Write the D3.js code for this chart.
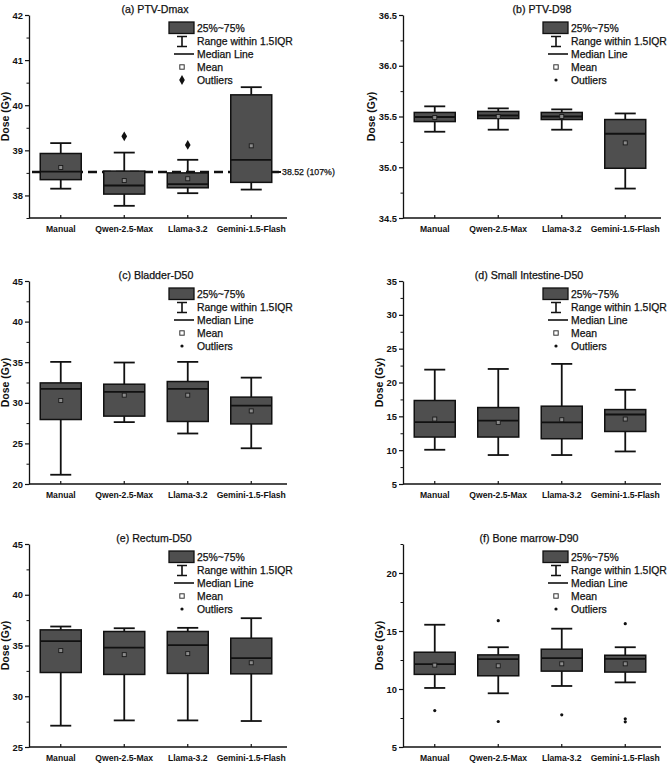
<!DOCTYPE html>
<html>
<head>
<meta charset="utf-8">
<script src="https://cdn.jsdelivr.net/npm/d3@7/dist/d3.min.js"></script>
<style>
  body { margin: 0; background: #fff; }
  svg { display: block; }
</style>
</head>
<body>
<div id="chart"></div>
<script>
// Catégories (axe X, commun aux 6 panneaux)
const categories = ['Manual', 'Qwen-2.5-Max', 'Llama-3.2', 'Gemini-1.5-Flash'];

// Statistiques par catégorie : [moustache basse, Q1, médiane, Q3, moustache haute, moyenne]
const ptvDmax      = [[38.15, 38.35, 38.53, 38.93, 39.16, 38.62],
                      [37.77, 38.03, 38.22, 38.54, 38.95, 38.33],
                      [38.05, 38.17, 38.25, 38.50, 38.79, 38.37],
                      [38.13, 38.29, 38.79, 40.23, 40.40, 39.10]];
const ptvDmaxOut   = [[], [39.31], [39.12], []];

const ptvD98       = [[35.35, 35.45, 35.495, 35.54, 35.60, 35.49],
                      [35.37, 35.48, 35.51, 35.55, 35.58, 35.50],
                      [35.37, 35.47, 35.50, 35.54, 35.57, 35.50],
                      [34.79, 34.99, 35.33, 35.47, 35.53, 35.24]];

const bladderD50   = [[21.14, 27.94, 31.72, 32.45, 35.04, 30.28],
                      [27.62, 28.36, 31.35, 32.29, 34.96, 30.94],
                      [26.22, 27.70, 31.72, 32.62, 35.04, 30.94],
                      [24.40, 27.40, 29.66, 30.70, 33.10, 29.00]];

const smallIntD50  = [[10.06, 11.94, 14.15, 17.34, 21.90, 14.60],
                      [ 9.28, 11.94, 14.38, 16.30, 22.00, 14.10],
                      [ 9.28, 11.69, 14.10, 16.50, 22.75, 14.50],
                      [ 9.81, 12.76, 15.27, 16.00, 18.92, 14.60]];

const rectumD50    = [[27.10, 32.34, 35.43, 36.54, 36.87, 34.50],
                      [27.62, 32.15, 34.80, 36.38, 36.70, 34.10],
                      [27.62, 32.25, 35.03, 36.38, 36.74, 34.20],
                      [27.56, 32.21, 33.75, 35.72, 37.69, 33.30]];

const boneMarrowD90    = [[10.09, 11.26, 12.14, 13.17, 15.54, 12.06],
                          [ 9.63, 11.14, 12.57, 12.94, 13.60, 12.00],
                          [10.26, 11.54, 12.66, 13.43, 15.20, 12.17],
                          [10.57, 11.46, 12.60, 12.91, 13.60, 12.17]];
const boneMarrowD90Out = [[8.14], [15.89, 7.20], [7.77], [15.63, 7.43, 7.17]];

// Ligne de référence du panneau (a)
const refDose = 38.52;
const refLabel = '38.52 (107%)';

// Graduations Y
const ticksA = [38, 39, 40, 41, 42];
const ticksB = [34.5, 35.0, 35.5, 36.0, 36.5];
const ticksC = [20, 25, 30, 35, 40, 45];
const ticksD = [5, 10, 15, 20, 25, 30, 35];
const ticksE = [25, 30, 35, 40, 45];
const ticksF = [5, 10, 15, 20];

const legendItems = ['25%~75%', 'Range within 1.5IQR', 'Median Line', 'Mean', 'Outliers'];

// ─── Mise en page ───
const W = 669, H = 764;
const PW = 258, PH = 203;
const FONT = '"Liberation Sans", Arial, sans-serif';
const INK = '#111';
const BOX_FILL = '#4f4f4f';

const panels = [
  { title: '(a) PTV-Dmax', stats: ptvDmax, out: ptvDmaxOut, domain: [37.5, 42], ticks: ticksA, minor: 0.5, fmt: d3.format('d'), x: 29, y: 15, tx: 126, diamond: true, ref: true },
  { title: '(b) PTV-D98', stats: ptvD98, out: null, domain: [34.5, 36.5], ticks: ticksB, minor: 0.25, fmt: d3.format('.1f'), x: 403, y: 15, tx: 139 },
  { title: '(c) Bladder-D50', stats: bladderD50, out: null, domain: [20, 45], ticks: ticksC, minor: 2.5, fmt: d3.format('d'), x: 29, y: 281, tx: 127 },
  { title: '(d) Small Intestine-D50', stats: smallIntD50, out: null, domain: [5, 35], ticks: ticksD, minor: 2.5, fmt: d3.format('d'), x: 403, y: 281, tx: 126 },
  { title: '(e) Rectum-D50', stats: rectumD50, out: null, domain: [25, 45], ticks: ticksE, minor: 2.5, fmt: d3.format('d'), x: 29, y: 544, tx: 125 },
  { title: '(f) Bone marrow-D90', stats: boneMarrowD90, out: boneMarrowD90Out, domain: [5, 22.5], ticks: ticksF, minor: 2.5, fmt: d3.format('d'), x: 403, y: 544, tx: 126 }
];

const svg = d3.select('#chart').append('svg')
  .attr('width', W).attr('height', H)
  .attr('viewBox', `0 0 ${W} ${H}`);

// Texte un peu « épaissi » pour rendre le gris du JPEG d'origine
function label(sel, x, y, txt, size, opts = {}) {
  return sel.append('text')
    .attr('x', x).attr('y', y)
    .attr('text-anchor', opts.anchor || 'start')
    .attr('dy', opts.dy || null)
    .attr('font-family', FONT)
    .attr('font-size', size)
    .attr('font-weight', opts.bold ? 700 : 400)
    .attr('fill', INK)
    .attr('stroke', INK).attr('stroke-width', opts.bold ? 0 : 0.25)
    .text(txt);
}

function outlierMark(g, cx, cy, diamond) {
  if (diamond) {
    g.append('path')
      .attr('d', d3.symbol().type(d3.symbolDiamond).size(28)())
      .attr('transform', `translate(${cx},${cy})`)
      .attr('fill', INK);
  } else {
    g.append('circle').attr('cx', cx).attr('cy', cy).attr('r', 1.6).attr('fill', INK);
  }
}

function meanMark(g, cx, cy) {
  g.append('rect')
    .attr('x', cx - 2).attr('y', cy - 2)
    .attr('width', 4).attr('height', 4)
    .attr('fill', '#8c8c8c').attr('stroke', '#1a1a1a').attr('stroke-width', 0.9);
}

function drawPanel(p) {
  const g = svg.append('g').attr('transform', `translate(${p.x},${p.y})`);
  const y = d3.scaleLinear().domain(p.domain).range([PH, 0]);
  const x = d3.scaleBand().domain(categories).range([0, 254]);
  const cx = c => x(c) + x.bandwidth() / 2;

  // graduations mineures
  const minorVals = d3.range(p.domain[0], p.domain[1] + 1e-9, p.minor)
    .filter(v => !p.ticks.some(t => Math.abs(t - v) < 1e-9));
  const gm = g.append('g').call(d3.axisLeft(y).tickValues(minorVals).tickSize(2.5).tickFormat(''));
  gm.select('.domain').remove();
  gm.selectAll('line').attr('stroke', INK).attr('stroke-width', 1);

  // graduations majeures
  const gy = g.append('g').call(d3.axisLeft(y).tickValues(p.ticks).tickSize(4).tickSizeOuter(0).tickPadding(2).tickFormat(p.fmt));
  gy.select('.domain').attr('stroke', INK).attr('stroke-width', 1.3);
  gy.selectAll('line').attr('stroke', INK).attr('stroke-width', 1.2);
  gy.selectAll('text')
    .attr('font-family', FONT).attr('font-size', 9.4).attr('font-weight', 700).attr('fill', INK);

  // axe X
  const gx = g.append('g').attr('transform', `translate(0,${PH})`)
    .call(d3.axisBottom(x).tickSize(-3).tickSizeOuter(0).tickPadding(8));
  gx.select('.domain').remove();
  gx.selectAll('line').attr('stroke', INK).attr('stroke-width', 1.2);
  gx.selectAll('text')
    .attr('font-family', FONT).attr('font-size', 8.6).attr('font-weight', 700).attr('fill', INK);
  g.append('line').attr('x1', 0).attr('x2', PW).attr('y1', PH).attr('y2', PH)
    .attr('stroke', INK).attr('stroke-width', 1.3);

  // titre Y : placé à gauche des étiquettes
  let maxW = 0;
  gy.selectAll('text').each(function () { maxW = Math.max(maxW, this.getComputedTextLength()); });
  g.append('text')
    .attr('transform', `translate(${-6 - maxW - 7},${PH / 2}) rotate(-90)`)
    .attr('text-anchor', 'middle').attr('dy', '0.35em')
    .attr('font-family', FONT).attr('font-size', 10.5).attr('font-weight', 700).attr('fill', INK)
    .text('Dose (Gy)');

  // titre du panneau
  label(g, p.tx, -2, p.title, 10.6, { anchor: 'middle' });

  // ligne de référence (a)
  if (p.ref) {
    g.append('line')
      .attr('x1', 3).attr('x2', 252)
      .attr('y1', y(refDose)).attr('y2', y(refDose))
      .attr('stroke', INK).attr('stroke-width', 2.4)
      .attr('stroke-dasharray', '9,5');
  }

  // boîtes
  const bw = 41, cw = 21;
  p.stats.forEach((s, i) => {
    const xc = cx(categories[i]);
    const [lo, q1, med, q3, hi, mean] = s;
    const bg = g.append('g');
    bg.append('line').attr('x1', xc).attr('x2', xc).attr('y1', y(hi)).attr('y2', y(q3))
      .attr('stroke', INK).attr('stroke-width', 1.8);
    bg.append('line').attr('x1', xc).attr('x2', xc).attr('y1', y(q1)).attr('y2', y(lo))
      .attr('stroke', INK).attr('stroke-width', 1.8);
    [hi, lo].forEach(v => {
      bg.append('line').attr('x1', xc - cw / 2).attr('x2', xc + cw / 2).attr('y1', y(v)).attr('y2', y(v))
        .attr('stroke', INK).attr('stroke-width', 1.8);
    });
    bg.append('rect')
      .attr('x', xc - bw / 2).attr('y', y(q3))
      .attr('width', bw).attr('height', y(q1) - y(q3))
      .attr('fill', BOX_FILL).attr('stroke', INK).attr('stroke-width', 1.5);
    bg.append('line').attr('x1', xc - bw / 2).attr('x2', xc + bw / 2).attr('y1', y(med)).attr('y2', y(med))
      .attr('stroke', INK).attr('stroke-width', 1.8);
    meanMark(bg, xc, y(mean));
    if (p.out) p.out[i].forEach(v => outlierMark(bg, xc, y(v), p.diamond));
  });

  if (p.ref) {
    g.append('line')
      .attr('x1', 242).attr('x2', 252)
      .attr('y1', y(refDose)).attr('y2', y(refDose))
      .attr('stroke', INK).attr('stroke-width', 2);
    label(g, 253, y(refDose), refLabel, 8.8, { dy: '0.35em' });
  }

  // légende
  const lg = g.append('g').attr('transform', 'translate(140,0)');
  const rows = [13, 26, 39, 52, 65];
  lg.append('rect').attr('x', 0).attr('y', 7).attr('width', 25).attr('height', 11.5)
    .attr('fill', BOX_FILL).attr('stroke', INK).attr('stroke-width', 1.3);
  lg.append('path').attr('d', 'M8,21.5H18M13,21.5V31.5M8,31.5H18')
    .attr('fill', 'none').attr('stroke', INK).attr('stroke-width', 1.6);
  lg.append('line').attr('x1', 5).attr('x2', 25).attr('y1', rows[2]).attr('y2', rows[2])
    .attr('stroke', INK).attr('stroke-width', 1.6);
  lg.append('rect').attr('x', 10.8).attr('y', rows[3] - 2.2).attr('width', 4.4).attr('height', 4.4)
    .attr('fill', '#fff').attr('stroke', '#333').attr('stroke-width', 1);
  outlierMark(lg, 13, rows[4], p.diamond);
  legendItems.forEach((t, i) => label(lg, 28, rows[i], t, 10.4, { dy: '0.36em' }));
}

panels.forEach(drawPanel);
</script>
</body>
</html>
